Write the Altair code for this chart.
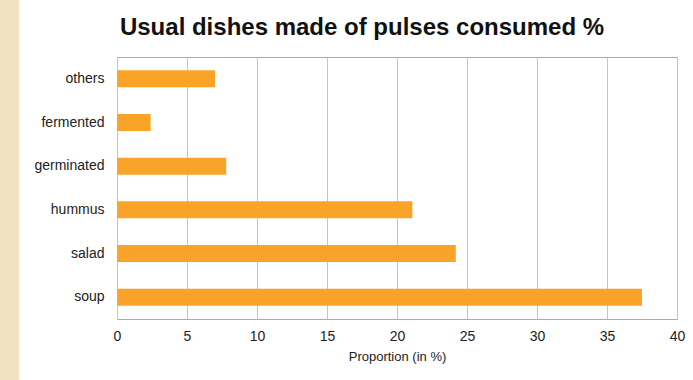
import altair as alt
import pandas as pd

categories = ["others", "fermented", "germinated", "hummus", "salad", "soup"]
values = [7.0, 2.4, 7.8, 21.1, 24.2, 37.5]
x_ticks = [0, 5, 10, 15, 20, 25, 30, 35, 40]
title_text = "Usual dishes made of pulses consumed %"

df = pd.DataFrame({"dish": categories, "value": values})

FONT = "Liberation Sans"

strip = alt.Chart(pd.DataFrame({"a": [0]})).mark_rect(color="#F1E3C1").encode(
    x=alt.value(-117), x2=alt.value(-98), y=alt.value(-57), y2=alt.value(323)
)

title = alt.Chart(pd.DataFrame({"t": [title_text]})).mark_text(
    font=FONT, fontSize=24, fontWeight="bold", color="#111", baseline="alphabetic",
    align="center"
).encode(text="t:N", x=alt.value(245), y=alt.value(-22))

bars = alt.Chart(df).mark_bar(color="#F9A428", size=17).encode(
    x=alt.X("value:Q", scale=alt.Scale(domain=[0, 40], nice=False),
            axis=alt.Axis(values=x_ticks, title="Proportion (in %)", grid=True,
                          gridColor="#C4C4C4", ticks=False, domain=False,
                          labelFontSize=14, labelColor="#222", labelPadding=10,
                          labelFlush=False,
                          labelFont=FONT, titleFont=FONT, titleFontSize=13,
                          titleFontWeight="normal", titleColor="#222", titlePadding=7)),
    y=alt.Y("dish:N", sort=categories, title=None,
            axis=alt.Axis(ticks=False, domain=False, labelFontSize=14,
                          labelColor="#222", labelPadding=13, labelFont=FONT)),
)

chart = alt.layer(strip, title, bars).properties(
    width=560, height=262,
    autosize=alt.AutoSizeParams(type="none"),
    padding={"left": 117, "top": 57, "right": 16, "bottom": 61},
    background="white",
).configure_view(stroke="#AAAAAA", strokeWidth=1)

chart.save("out.html", embed_options={"renderer": "svg", "actions": False})
